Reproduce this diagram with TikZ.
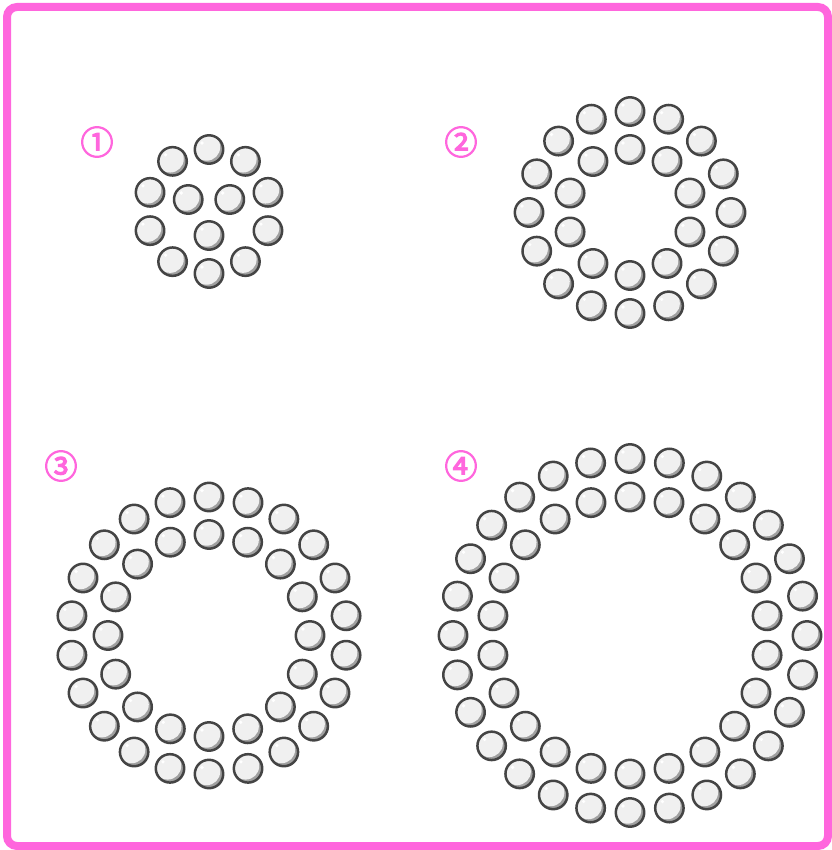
\documentclass[tikz,border=0pt]{standalone}
\usepackage{fontspec}
\newfontfamily\cjk{Noto Sans CJK JP}[FakeBold=3.5]
\definecolor{pinkline}{RGB}{255,102,221}
\definecolor{ballface}{RGB}{240,240,240}
\definecolor{ballshade}{RGB}{160,160,160}
\definecolor{ballline}{RGB}{68,68,68}
\usetikzlibrary{calc}
\tikzset{
  ball/.pic={
    \fill[ballshade] (0,0) circle (14.2);
    \begin{scope}
      \clip (0,0) circle (14.2);
      \fill[ballface] (-2.4,-2.4) circle (13.6);
    \end{scope}
    \fill[white] (-7,-6.5) circle (1.8);
    \draw[ballline, line width=2.5pt] (0,0) circle (14.2);
  },
  numlabel/.style={text=pinkline, font=\cjk\fontsize{33}{33}\selectfont, inner sep=0pt},
  frame/.style={draw=pinkline, line width=8pt, rounded corners=10pt}
}
\newcommand\ballring[5]{% cx, cy, radius, count, start angle
  \pgfmathtruncatemacro\nlast{#4-1}
  \foreach \i in {0,...,\nlast}{
    \pgfmathsetmacro\ang{#5+\i*360/#4}
    \pic at ($(#1,#2)+(\ang:#3)$) {ball};
  }
}
\begin{document}
\begin{tikzpicture}[x=1pt,y=-1pt]
  \useasboundingbox (0,0) rectangle (831,850);
  \draw[frame] (7,7) rectangle (828,846);
  % figure 1
  \ballring{209}{211.5}{24}{3}{90}
  \ballring{209}{211.5}{62}{10}{-90}
  % figure 2
  \ballring{630}{212.5}{63}{10}{-90}
  \ballring{630}{212.5}{101}{16}{-90}
  % figure 3
  \ballring{209}{635.5}{101}{16}{-90}
  \ballring{209}{635.5}{138.5}{22}{-90}
  % figure 4
  \ballring{630}{635.5}{138.5}{22}{-90}
  \ballring{630}{635.5}{177}{28}{-90}
  % labels
  \node[numlabel] (l1) at (97,142) {①};
  \node[numlabel] (l2) at (461,142) {②};
  \node[numlabel] (l3) at (61,466) {③};
  \node[numlabel] (l4) at (461,466) {④};
\end{tikzpicture}
\end{document}
